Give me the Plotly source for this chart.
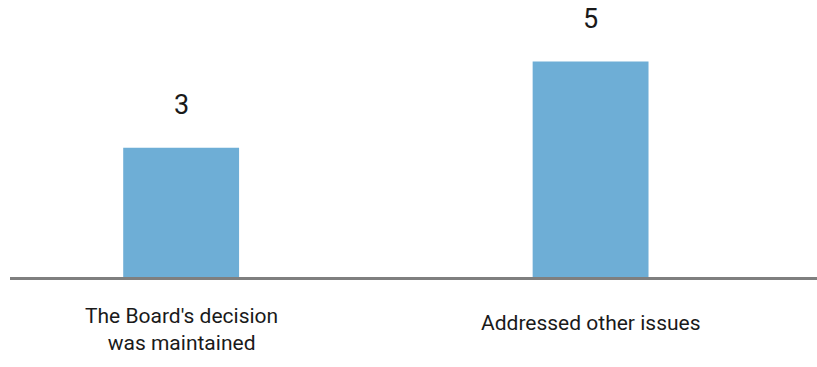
import plotly.graph_objects as go

categories = ["The Board's decision<br>was maintained", "Addressed other issues"]
values = [3, 5]
value_labels = ["3", "5"]

FONT = "Roboto, sans-serif"
BAR_COLOR = "#6EAED6"

x_idx = list(range(len(categories)))

fig = go.Figure()
fig.add_trace(go.Bar(
    x=x_idx, y=values, width=0.283,
    marker=dict(color=BAR_COLOR, line=dict(width=0)),
    hoverinfo="skip",
))

for xi, v, lab in zip(x_idx, values, value_labels):
    fig.add_annotation(x=xi, y=v, text=lab, showarrow=False,
                       yanchor="middle", yshift=43,
                       font=dict(family=FONT, size=27, color="#1a1a1a"))

label_y = [-0.19, -0.165]
for xi, cat, ly in zip(x_idx, categories, label_y):
    fig.add_annotation(x=xi, xref="x", y=ly, yref="paper", text=cat,
                       showarrow=False, yanchor="middle", align="center",
                       font=dict(family=FONT, size=21, color="#1a1a1a"))

fig.update_layout(
    width=817, height=367,
    margin=dict(l=10, r=0, t=0, b=90),
    paper_bgcolor="white", plot_bgcolor="white",
    showlegend=False,
    xaxis=dict(range=[-0.418, 1.553], showticklabels=False, ticks="",
               showgrid=False, zeroline=False,
               showline=True, linecolor="#7f7f7f", linewidth=3),
    yaxis=dict(range=[0, 6.43], visible=False, showgrid=False, zeroline=False),
)

fig.write_html("out.html")
